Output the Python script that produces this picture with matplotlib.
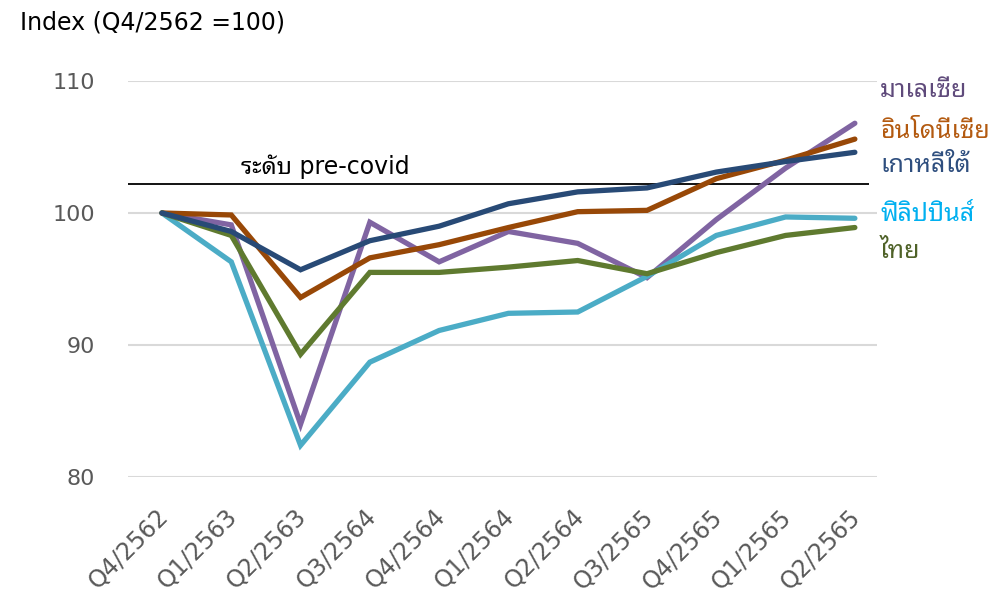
import matplotlib
matplotlib.use('Agg')
import matplotlib.pyplot as plt
import matplotlib.transforms as mtransforms

quarters = ['Q4/2562', 'Q1/2563', 'Q2/2563', 'Q3/2564', 'Q4/2564', 'Q1/2564',
            'Q2/2564', 'Q3/2565', 'Q4/2565', 'Q1/2565', 'Q2/2565']

malaysia = [100, 99.1, 84.0, 99.3, 96.3, 98.6, 97.7, 95.1, 99.5, 103.4, 106.8]
philippines = [100, 96.3, 82.4, 88.7, 91.1, 92.4, 92.5, 95.2, 98.3, 99.7, 99.6]
indonesia = [100, 99.85, 93.6, 96.6, 97.6, 98.9, 100.1, 100.2, 102.6, 104.0, 105.6]
thailand = [100, 98.3, 89.3, 95.5, 95.5, 95.9, 96.4, 95.4, 97.0, 98.3, 98.9]
korea = [100, 98.6, 95.7, 97.9, 99.0, 100.7, 101.6, 101.9, 103.1, 103.9, 104.6]

pre_covid = 102.2

# Latin glyphs from DejaVu, Thai glyphs fall through to Noto Sans Thai Looped
fonts = ['DejaVu Sans', 'Noto Sans Thai Looped']

# (values, line colour, label, label colour, label y)
series = [
    (malaysia, '#8064A2', 'มาเลเซีย', '#5F4A7B', 109.3),
    (philippines, '#4BACC6', 'ฟิลิปปินส์', '#00B0F0', 99.9),
    (indonesia, '#984807', 'อินโดนีเซีย', '#B35A10', 106.2),
    (thailand, '#5F7A2F', 'ไทย', '#4F6228', 97.1),
    (korea, '#284A76', 'เกาหลีใต้', '#2E4E7E', 103.6),
]

plt.rcParams['font.family'] = fonts

fig = plt.figure(figsize=(9.91, 6.0), dpi=100)
ax = fig.add_axes([0.1292, 0.205, 0.7558, 0.66])

x = list(range(len(quarters)))
for values, color, label, label_color, label_y in series:
    ax.plot(x, values, color=color, linewidth=3.8, solid_capstyle='round',
            solid_joinstyle='miter', zorder=3)
    ax.text(1.004, (label_y - 80) / 30, label, transform=ax.transAxes,
            color=label_color, fontsize=18, ha='left', va='center')

ax.hlines(pre_covid, -0.49, 10.2, color='black', linewidth=1.3, zorder=2)
ax.text(2.35, pre_covid + 0.35, 'ระดับ pre-covid', fontsize=17,
        ha='center', va='bottom', color='black')

ax.set_xlim(-0.49, 10.32)
ax.set_ylim(80, 110)
ax.set_yticks([80, 90, 100, 110])
ax.set_xticks(x)
ax.set_xticklabels(quarters, rotation=45, ha='right', rotation_mode='anchor')
ax.grid(axis='y', color='#D9D9D9', linewidth=1.5, zorder=0)
ax.set_axisbelow(True)
for spine in ax.spines.values():
    spine.set_visible(False)
ax.tick_params(axis='both', length=0, colors='#595959')
ax.tick_params(axis='y', pad=24, labelsize=16)
ax.tick_params(axis='x', pad=20, labelsize=17)

# nudge the slanted quarter labels a little to the left
shift = mtransforms.ScaledTranslation(-6 / 100, 0, fig.dpi_scale_trans)
for lbl in ax.get_xticklabels():
    lbl.set_transform(lbl.get_transform() + shift)

fig.text(0.02, 0.963, 'Index (Q4/2562 =100)', fontsize=17, color='black',
         ha='left', va='center')

fig.savefig('out.png')
